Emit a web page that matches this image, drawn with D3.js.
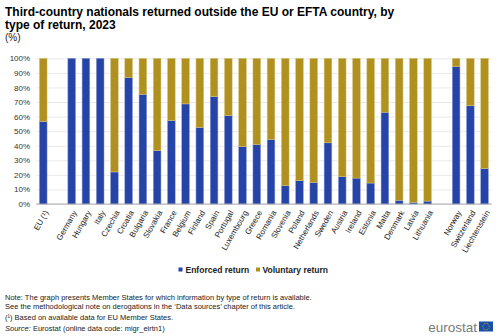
<!DOCTYPE html>
<html><head><meta charset="utf-8">
<script src="https://cdn.jsdelivr.net/npm/d3@7"></script>
<style>body{margin:0;background:#fff;font-family:"Liberation Sans",Arial,sans-serif}</style>
</head><body><svg id="c" width="500" height="336"></svg>
<script>
const categories = ["EU (¹)","", "Germany","Hungary","Italy","Czechia","Croatia","Bulgaria","Slovakia","France","Belgium","Finland","Spain","Portugal","Luxembourg","Greece","Romania","Slovenia","Poland","Netherlands","Sweden","Austria","Ireland","Estonia","Malta","Denmark","Latvia","Lithuania"," ","Norway","Switzerland","Liechtenstein"];
const enforced = [56.6,null,100,100,100,22,86.8,75.3,36.6,57.3,68.7,52.5,73.8,60.7,39.3,40.9,44.3,12.7,16,14.8,42,18.7,17.8,14.4,63,2.6,1.2,2,null,94.3,67.4,24.4];
const voluntary = enforced.map(v => v == null ? null : +(100 - v).toFixed(1));
const yTicks = [0,10,20,30,40,50,60,70,80,90,100];
const seriesNames = ["Enforced return","Voluntary return"];
const colors = ["#2644A7","#B09120"];

const svg = d3.select("#c");
const x = d3.scaleBand().domain(categories.map((c,i)=>i)).range([36.1,491.7]).paddingInner(0.46).paddingOuter(0.23);
const y = d3.scaleLinear().domain([0,100]).range([204,58.3]);

// title
const t = svg.append("g").attr("font-weight","bold").attr("font-size",12).attr("fill","#000");
t.append("text").attr("x",5).attr("y",16).text("Third-country nationals returned outside the EU or EFTA country, by");
t.append("text").attr("x",5).attr("y",28.5).text("type of return, 2023");
svg.append("text").attr("x",5).attr("y",40.5).attr("font-size",10).attr("fill","#222").text("(%)");

// grid
const yAxis = d3.axisLeft(y).tickValues(yTicks).tickFormat(d=>d+"%").tickSize(-(491.7-36.1)).tickPadding(6);
const ga = svg.append("g").attr("transform","translate(36.1,0)").call(yAxis);
ga.select(".domain").remove();
ga.selectAll(".tick line").attr("stroke","#e4e4e4").attr("stroke-width",0.8);
ga.selectAll(".tick text").attr("font-size",8).attr("fill","#333").attr("font-family","Liberation Sans, Arial, sans-serif");

// bars
const data = categories.map((c,i)=>({i, e:enforced[i], v:voluntary[i]})).filter(d=>d.e!=null);
const g = svg.append("g");
g.selectAll("rect.e").data(data).join("rect").attr("class","e")
  .attr("x",d=>x(d.i)).attr("width",x.bandwidth())
  .attr("y",d=>y(d.e)).attr("height",d=>y(0)-y(d.e))
  .attr("fill",colors[0]).attr("stroke","#8fa0d8").attr("stroke-width",0.5);
g.selectAll("rect.v").data(data.filter(d=>d.v>0)).join("rect").attr("class","v")
  .attr("x",d=>x(d.i)).attr("width",x.bandwidth())
  .attr("y",d=>y(100)).attr("height",d=>y(d.e)-y(100))
  .attr("fill",colors[1]).attr("stroke","#d8c784").attr("stroke-width",0.5);

// baseline
svg.append("line").attr("x1",36.1).attr("x2",491.7).attr("y1",y(0)).attr("y2",y(0)).attr("stroke","#999").attr("stroke-width",0.8);

// x labels
const xa = svg.append("g").attr("transform",`translate(0,${y(0)})`).call(d3.axisBottom(x).tickSize(0).tickFormat(i=>categories[i]));
xa.select(".domain").remove();
xa.selectAll(".tick text").attr("font-size",8).attr("fill","#222").attr("font-family","Liberation Sans, Arial, sans-serif")
  .attr("text-anchor","end").attr("dy","0").attr("transform","translate(3,7) rotate(-60)");

// legend
const lg = svg.append("g").attr("font-size",8.5).attr("font-weight","bold").attr("fill","#222");
[[178.5,185.5],[256,262.5]].forEach((p,k)=>{
  lg.append("rect").attr("x",p[0]).attr("y",267.5).attr("width",4).attr("height",4).attr("fill",colors[k]);
  lg.append("text").attr("x",p[1]).attr("y",273).text(seriesNames[k]);
});

// notes
const n = svg.append("g").attr("font-size",7.5).attr("fill","#222");
n.append("text").attr("x",5).attr("y",299.5).text("Note: The graph presents Member States for which information by type of return is available.");
n.append("text").attr("x",5).attr("y",309).text("See the methodological note on derogations in the ‘Data sources’ chapter of this article.");
n.append("text").attr("x",5).attr("y",320).text("(¹) Based on available data for EU Member States.");
const s = n.append("text").attr("x",5).attr("y",331);
s.append("tspan").attr("font-style","italic").text("Source:");
s.append("tspan").text(" Eurostat (online data code: migr_eirtn1)");

// logo
svg.append("text").attr("x",477).attr("y",332).attr("text-anchor","end").attr("font-size",13.5).attr("fill","#7a7a7a").text("eurostat");
svg.append("rect").attr("x",479).attr("y",321.5).attr("width",14).attr("height",10).attr("fill","#1b4fa8");
const fl = svg.append("g");
for(let k=0;k<12;k++){const a=k*Math.PI/6; fl.append("circle").attr("cx",486+3.2*Math.cos(a)).attr("cy",326.5+3.2*Math.sin(a)).attr("r",0.45).attr("fill","#ffd500");}
</script></body></html>
